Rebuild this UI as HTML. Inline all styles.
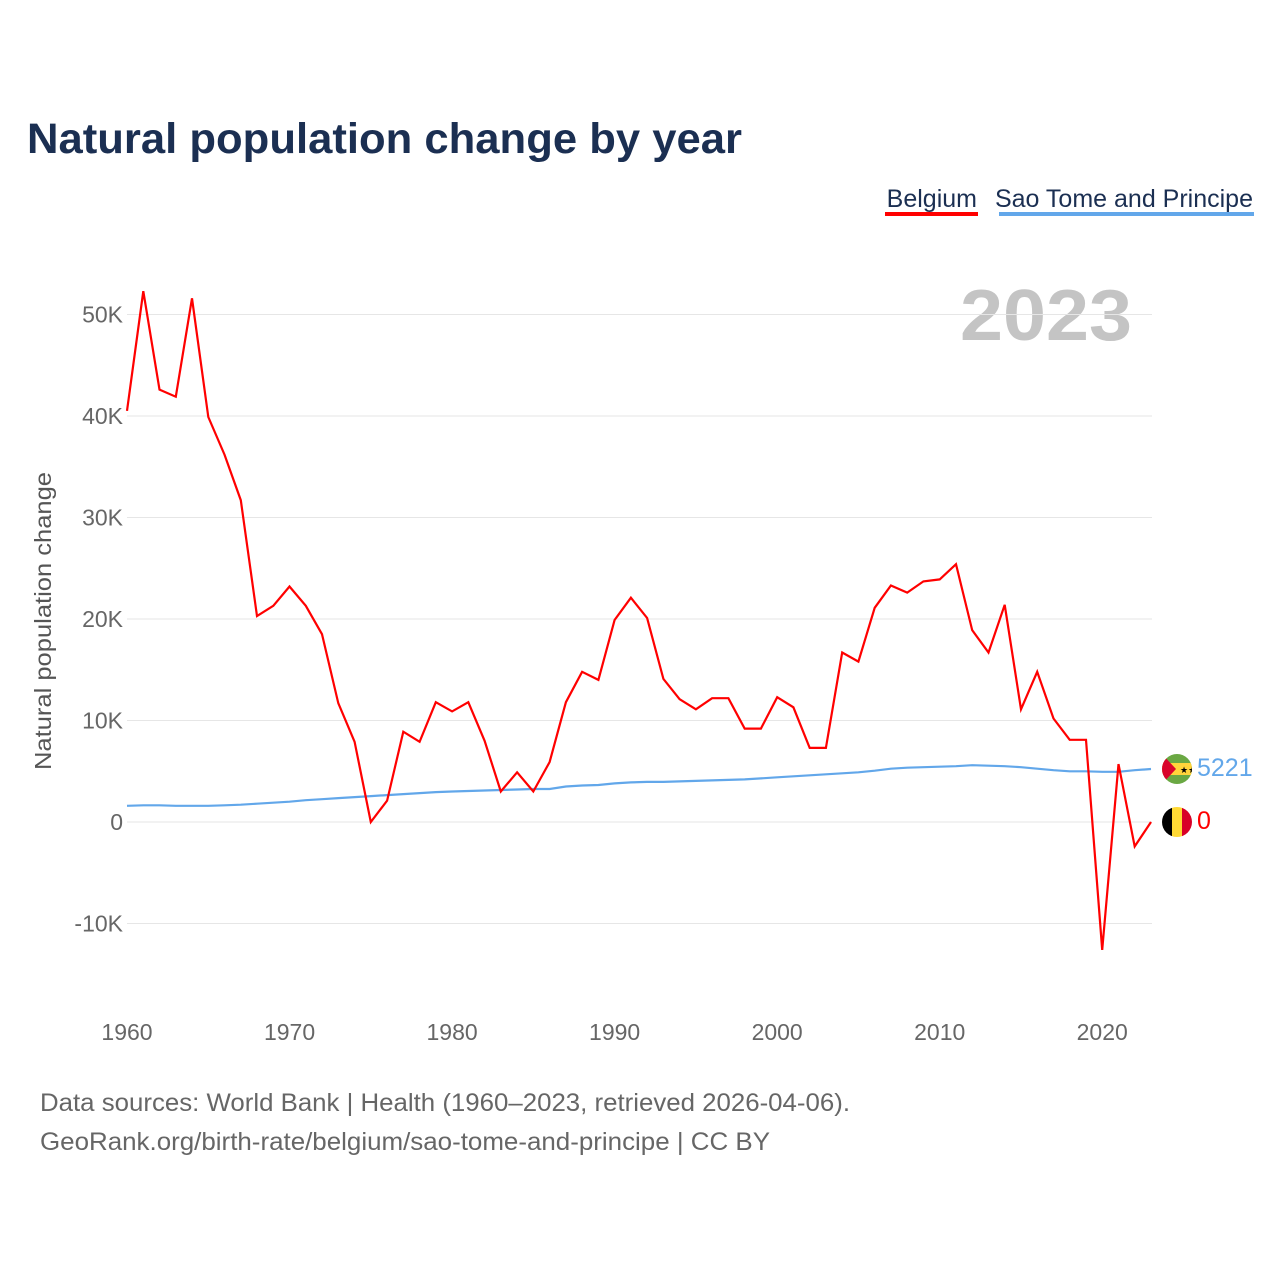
<!DOCTYPE html>
<html><head><meta charset="utf-8"><style>
body{margin:0;background:#fff;font-family:"Liberation Sans",sans-serif}
#wrap{position:relative;width:1280px;height:1280px}
</style></head><body>
<div id="wrap">
<svg id="chart" width="1280" height="1280">
<text x="27" y="153" font-size="43" font-weight="bold" fill="#1b2f52" textLength="715" lengthAdjust="spacingAndGlyphs">Natural population change by year</text>
<g><text x="977" y="207" font-size="25" fill="#1b2f52" text-anchor="end">Belgium</text><rect x="885" y="212" width="93" height="4" fill="#ff0000"/></g>
<g><text x="1253" y="207" font-size="25" fill="#1b2f52" text-anchor="end">Sao Tome and Principe</text><rect x="999" y="212" width="255" height="4" fill="#62a7ea"/></g>
<text x="960" y="340" font-size="72" font-weight="bold" fill="#c4c4c4" textLength="172" lengthAdjust="spacingAndGlyphs">2023</text>
<text transform="translate(51,770) rotate(-90)" font-size="23" fill="#555" textLength="298" lengthAdjust="spacingAndGlyphs">Natural population change</text>
<g id="grid"></g><g id="series"></g>
<g>
<clipPath id="c1"><circle cx="1177" cy="769" r="15"/></clipPath>
<g clip-path="url(#c1)"><rect x="1162" y="754" width="30" height="30" fill="#6aa843"/><rect x="1162" y="763" width="30" height="12" fill="#ffd43b"/><polygon points="1162,754 1176,769 1162,784" fill="#d9042b"/><text x="1180" y="773" font-size="9">★★</text></g></g>
<g>
<clipPath id="c2"><circle cx="1177" cy="822" r="15"/></clipPath>
<g clip-path="url(#c2)"><rect x="1162" y="807" width="10" height="30" fill="#000"/><rect x="1172" y="807" width="10" height="30" fill="#ffd935"/><rect x="1182" y="807" width="10" height="30" fill="#d80027"/></g></g>
<text x="1197" y="776" font-size="25" fill="#62a7ea">5221</text>
<text x="1197" y="829" font-size="25" fill="#ff0000">0</text>
<text x="40" y="1111" font-size="25" fill="#666" textLength="810" lengthAdjust="spacingAndGlyphs">Data sources: World Bank | Health (1960–2023, retrieved 2026-04-06).</text>
<text x="40" y="1150" font-size="25" fill="#666" textLength="730" lengthAdjust="spacingAndGlyphs">GeoRank.org/birth-rate/belgium/sao-tome-and-principe | CC BY</text>
</svg></div>
<script>
const years=[];for(let y=1960;y<=2023;y++)years.push(y);
const belgium=[40.5,52.3,42.6,41.9,51.6,39.9,36.2,31.7,20.3,21.3,23.2,21.3,18.5,11.7,7.9,0,2.1,8.9,7.9,11.8,10.9,11.8,8.0,3.0,4.9,3.0,5.9,11.8,14.8,14.0,19.9,22.1,20.1,14.1,12.1,11.1,12.2,12.2,9.2,9.2,12.3,11.3,7.3,7.3,16.7,15.8,21.1,23.3,22.6,23.7,23.9,25.4,18.9,16.7,21.4,11.1,14.8,10.2,8.1,8.1,-12.6,5.7,-2.4,0];
const stp=[1.6,1.65,1.65,1.6,1.6,1.6,1.65,1.7,1.8,1.9,2.0,2.15,2.25,2.35,2.45,2.55,2.65,2.75,2.85,2.95,3.0,3.05,3.1,3.15,3.2,3.25,3.25,3.5,3.6,3.65,3.8,3.9,3.95,3.95,4.0,4.05,4.1,4.15,4.2,4.3,4.4,4.5,4.6,4.7,4.8,4.9,5.05,5.25,5.35,5.4,5.45,5.5,5.6,5.55,5.5,5.4,5.25,5.1,5.0,5.0,4.95,4.95,5.1,5.22];
const yTicks=[-10,0,10,20,30,40,50];
const yTickLabels=["-10K","0","10K","20K","30K","40K","50K"];
const xTicks=[1960,1970,1980,1990,2000,2010,2020];
const X=v=>127+(v-1960)*(1151-127)/63;
const Y=v=>822-v*10.15;
const NS="http://www.w3.org/2000/svg";
const grid=document.getElementById('grid'),ser=document.getElementById('series');
function mk(t,a,p){const e=document.createElementNS(NS,t);for(const k in a)e.setAttribute(k,a[k]);p.appendChild(e);return e;}
yTicks.forEach((t,i)=>{
 const l=mk('line',{x1:127,x2:1152,y1:Y(t),y2:Y(t),stroke:'#e6e6e6','stroke-width':1},grid);
 
 
 const tx=mk('text',{x:123,y:Y(t)+8,'font-size':23,fill:'#666','text-anchor':'end'},grid);
 tx.textContent=yTickLabels[i];
 
 
});
xTicks.forEach(t=>{
 const tx=mk('text',{x:X(t),y:1040,'font-size':23,fill:'#666','text-anchor':'middle'},grid);
 tx.textContent=t;
 
 
});
function line(data,color,name){
 const d=data.map((v,i)=>(i?'L':'M')+X(years[i]).toFixed(1)+','+Y(v).toFixed(1)).join('');
 const p=mk('path',{d:d,fill:'none',stroke:color,'stroke-width':2.2,'stroke-linejoin':'miter'},ser);
 
 
}
line(stp,'#62a7ea','stp-line');
line(belgium,'#ff0000','belgium-line');
</script>
</body></html>
